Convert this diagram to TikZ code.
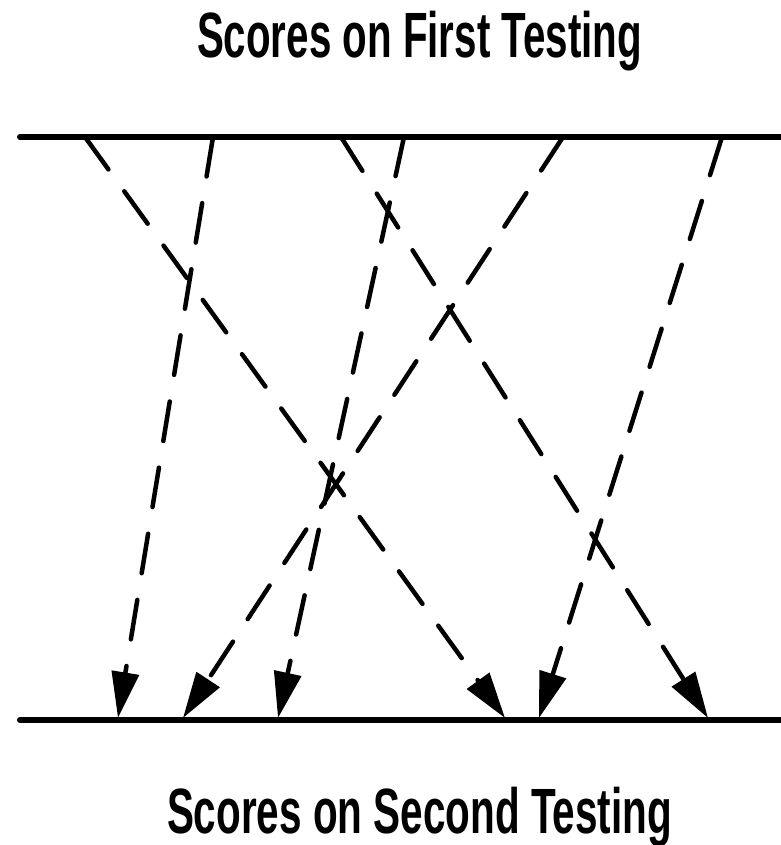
\documentclass[tikz,border=0pt]{standalone}
\usepackage{fontspec}
\setmainfont{Liberation Sans}
\usetikzlibrary{arrows.meta}
\tikzset{
  scale line/.style={line width=6pt, line cap=round},
  shift arrow/.style={line width=4.5pt, line cap=round,
    dash pattern=on 40pt off 27pt,
    -{Triangle[length=46pt, width=27pt]}},
  title/.style={anchor=base, inner sep=0pt, font=\fontsize{64}{64}\selectfont\bfseries}
}
\begin{document}
\begin{tikzpicture}[x=1pt, y=-1pt]
  \useasboundingbox (0,0) rectangle (780,845);

  % headings
  \node[title] (top) at (419.5,58) {\resizebox{445pt}{\height}{Scores on First Testing}};
  \node[title] (bot) at (419.5,833) {\resizebox{505pt}{\height}{Scores on Second Testing}};

  % the two score scales
  \coordinate (L1) at (20,137);  \coordinate (R1) at (783,137);
  \coordinate (L2) at (20,720);  \coordinate (R2) at (783,720);
  \draw[scale line] (L1) -- (R1);
  \draw[scale line] (L2) -- (R2);

  % positions on the first testing
  \coordinate (t1) at (85,137);
  \coordinate (t2) at (213,137);
  \coordinate (t3) at (341,137);
  \coordinate (t4) at (404,137);
  \coordinate (t5) at (563,137);
  \coordinate (t6) at (722,137);

  % positions on the second testing
  \coordinate (b1) at (118,718);
  \coordinate (b2) at (183,718);
  \coordinate (b3) at (278,718);
  \coordinate (b4) at (505,718);
  \coordinate (b5) at (539,718);
  \coordinate (b6) at (708,718);

  % how each score moved
  \draw[shift arrow] (t1) -- (b4);
  \draw[shift arrow] (t2) -- (b1);
  \draw[shift arrow] (t3) -- (b6);
  \draw[shift arrow] (t4) -- (b3);
  \draw[shift arrow] (t5) -- (b2);
  \draw[shift arrow] (t6) -- (b5);
\end{tikzpicture}
\end{document}
